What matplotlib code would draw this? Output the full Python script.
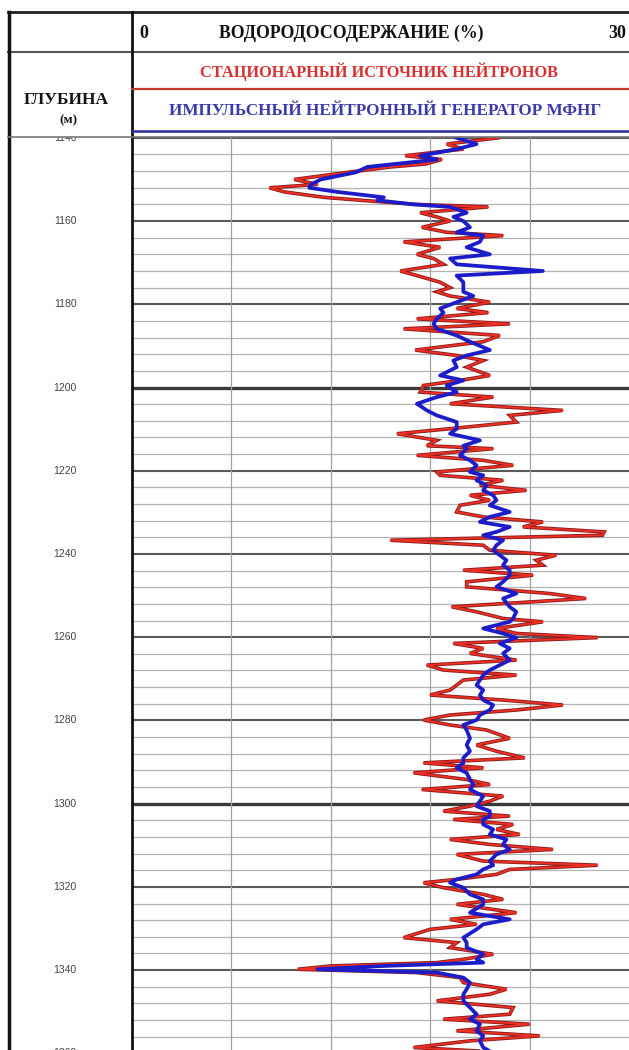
import matplotlib
matplotlib.use("Agg")
import matplotlib.pyplot as plt
import numpy as np

depth = [1140.0, 1141.5, 1142.7, 1144.3, 1145.2, 1146.3, 1147.0, 1148.3, 1150.0, 1151.2,
         1152.0, 1153.0, 1154.3, 1155.0, 1156.0, 1156.6, 1158.0, 1159.0, 1160.0, 1161.5,
         1162.7, 1163.5, 1165.0, 1166.3, 1168.0, 1169.0, 1170.4, 1172.0, 1173.1, 1174.7,
         1176.0, 1177.0, 1178.0, 1179.5, 1181.0, 1182.0, 1183.5, 1184.7, 1185.9, 1187.5,
         1189.0, 1191.0, 1192.3, 1193.5, 1195.1, 1197.1, 1198.3, 1199.5, 1201.1, 1202.3,
         1203.9, 1205.5, 1206.7, 1208.3, 1209.9, 1211.1, 1212.7, 1214.0, 1214.7, 1216.3,
         1217.5, 1218.7, 1220.3, 1221.1, 1222.3, 1223.5, 1224.7, 1225.9, 1227.1, 1228.3,
         1229.9, 1231.1, 1232.3, 1233.5, 1234.7, 1235.5, 1236.7, 1237.9, 1239.1, 1240.3,
         1241.5, 1242.7, 1243.9, 1245.1, 1246.7, 1247.9, 1249.5, 1250.7, 1252.7, 1253.9,
         1255.5, 1256.3, 1257.9, 1259.1, 1260.1, 1261.5, 1262.7, 1263.9, 1265.5, 1266.7,
         1267.9, 1269.1, 1270.3, 1271.5, 1272.7, 1273.9, 1275.1, 1276.3, 1277.5, 1278.7,
         1279.9, 1281.1, 1282.3, 1284.3, 1285.9, 1287.4, 1289.0, 1290.2, 1291.4, 1292.6,
         1294.2, 1295.4, 1296.6, 1298.2, 1299.4, 1300.6, 1301.8, 1303.0, 1303.8, 1305.0,
         1306.2, 1307.4, 1308.6, 1309.8, 1311.0, 1312.2, 1313.8, 1314.8, 1315.8, 1317.0,
         1318.2, 1319.0, 1320.2, 1321.8, 1323.0, 1324.2, 1326.2, 1327.8, 1329.0, 1330.2,
         1332.2, 1333.4, 1334.6, 1336.2, 1337.4, 1338.2, 1339.0, 1339.8, 1340.6, 1341.8,
         1343.0, 1344.6, 1345.8, 1347.4, 1349.0, 1350.6, 1351.8, 1353.0, 1354.6, 1355.8,
         1357.0, 1358.6, 1359.5]

# stationary neutron source
red = [22.1, 19.0, 20.0, 16.5, 18.7, 17.7, 15.6, 13.0, 9.8, 11.2,
       8.3, 9.2, 11.6, 13.8, 17.2, 21.5, 17.4, 18.4, 19.2, 17.5,
       19.0, 22.4, 16.4, 18.6, 17.2, 18.2, 18.8, 16.2, 17.2, 18.6,
       19.2, 18.4, 19.2, 21.6, 19.6, 21.5, 17.2, 22.8, 16.4, 22.2,
       21.2, 17.1, 19.6, 21.2, 20.2, 21.6, 19.8, 17.6, 17.4, 21.8,
       19.2, 26.0, 22.8, 23.2, 19.2, 16.0, 18.4, 17.8, 21.8, 17.2,
       21.2, 23.0, 18.4, 18.6, 22.4, 21.0, 23.8, 20.4, 21.6, 19.8,
       19.6, 21.2, 24.8, 23.6, 28.5, 28.4, 15.6, 21.2, 21.6, 25.6,
       24.4, 24.8, 20.0, 24.2, 20.2, 20.2, 25.2, 27.4, 19.3, 20.8,
       22.4, 24.8, 22.0, 23.2, 28.1, 19.4, 21.2, 20.4, 23.2, 17.8,
       18.8, 23.2, 20.0, 19.6, 19.2, 18.0, 22.4, 26.0, 23.2, 19.2,
       17.6, 19.2, 21.4, 22.8, 20.8, 22.0, 23.7, 17.6, 21.2, 17.0,
       20.2, 21.6, 17.5, 22.4, 21.6, 20.4, 18.8, 22.8, 19.4, 23.0,
       22.0, 23.4, 19.2, 21.6, 25.4, 19.6, 21.2, 28.1, 22.8, 22.0,
       19.6, 17.6, 18.8, 21.2, 22.4, 19.6, 23.2, 19.2, 20.8, 18.0,
       16.4, 19.6, 19.2, 21.8, 20.0, 18.4, 12.0, 10.0, 17.2, 19.8,
       20.0, 22.6, 21.6, 18.4, 23.0, 22.8, 18.8, 24.0, 19.6, 24.6,
       20.4, 17.0, 21.2]

# pulsed neutron generator
blue = [19.6, 20.8, 19.6, 17.4, 18.4, 15.8, 14.2, 13.5, 11.4, 10.8,
        10.7, 12.4, 15.2, 14.8, 17.0, 19.2, 20.2, 19.4, 20.0, 20.4,
        19.6, 21.2, 21.0, 20.2, 21.6, 19.2, 19.6, 24.8, 19.6, 20.0,
        20.0, 20.0, 20.6, 19.6, 18.6, 18.8, 18.4, 18.2, 18.4, 19.6,
        20.4, 21.6, 20.2, 19.4, 19.6, 18.6, 20.0, 19.0, 19.6, 18.4,
        17.2, 17.8, 18.4, 19.6, 19.6, 19.2, 21.0, 20.0, 20.2, 19.8,
        20.4, 20.8, 20.4, 21.2, 20.8, 21.4, 21.2, 21.8, 22.0, 21.6,
        22.8, 21.6, 21.0, 22.8, 22.0, 21.2, 22.4, 22.0, 21.8, 22.2,
        22.6, 22.4, 22.8, 22.8, 22.4, 22.0, 23.2, 22.4, 22.8, 23.2,
        23.0, 22.8, 21.2, 22.4, 23.2, 22.2, 22.8, 22.4, 22.8, 22.2,
        21.6, 21.2, 21.0, 20.8, 21.2, 21.0, 21.2, 21.8, 21.6, 21.0,
        20.8, 20.0, 20.2, 20.4, 20.2, 20.4, 20.0, 20.0, 19.6, 20.2,
        20.4, 20.6, 20.4, 21.2, 21.0, 20.8, 21.6, 21.6, 21.2, 21.2,
        21.8, 21.6, 22.6, 22.4, 22.8, 22.0, 21.6, 21.8, 21.2, 20.8,
        19.6, 19.2, 20.0, 20.4, 21.2, 21.2, 20.4, 22.8, 21.2, 20.8,
        20.0, 20.2, 20.2, 21.2, 20.8, 21.2, 15.2, 11.2, 18.4, 20.0,
        20.4, 20.2, 20.0, 20.0, 20.4, 20.8, 20.4, 21.0, 20.8, 21.2,
        21.0, 21.2, 21.6]

depth_labels = [1140, 1160, 1180, 1200, 1220, 1240, 1260, 1280, 1300, 1320, 1340, 1360]

W, H = 629, 1050
top_px = 137
d_top, d_bot = 1139.8, 1359.2

fig = plt.figure(figsize=(W / 100, H / 100), dpi=100)
fig.patch.set_facecolor("white")

# main log track
ax = fig.add_axes([132 / W, 0, (W - 132) / W, (H - top_px) / H])
ax.set_xlim(0, 30)
ax.set_ylim(d_bot, d_top)
for s in ax.spines.values():
    s.set_visible(False)
ax.set_xticks([])
ax.set_yticks([])

for d in np.arange(1140, 1361, 4):
    if d % 100 == 0:
        ax.axhline(d, color="#3a3a3a", lw=2.4, zorder=1)
    elif d % 20 == 0:
        ax.axhline(d, color="#5a5a5a", lw=1.5, zorder=1)
    else:
        ax.axhline(d, color="#b4b4b4", lw=0.9, zorder=1)
for v in [6, 12, 18, 24]:
    ax.axvline(v, color="#a0a0a0", lw=0.9, zorder=1)

ax.plot(red, depth, color="#8c1c1c", lw=2.6, zorder=2, solid_joinstyle="miter")
ax.plot(red, depth, color="#ee3024", lw=1.3, zorder=3)
ax.plot(blue, depth, color="#1c1cc8", lw=2.7, zorder=4)

# depth column
axl = fig.add_axes([8 / W, 0, 124 / W, (H - top_px) / H])
axl.set_xlim(0, 1)
axl.set_ylim(d_bot, d_top)
axl.axis("off")
for d in depth_labels:
    axl.text(0.46, d, str(d), ha="center", va="center", fontsize=7.5,
             family="Liberation Sans", color="#444444", clip_on=True)

# header and frame
hd = fig.add_axes([0, 0, 1, 1], facecolor="none")
hd.set_xlim(0, W)
hd.set_ylim(H, 0)
hd.axis("off")
hd.plot([8, W], [12, 12], color="#222222", lw=2)
hd.plot([8, W], [52, 52], color="#555555", lw=1.5)
hd.plot([9, 9], [12, H], color="#111111", lw=2.5)
hd.plot([132, 132], [12, H], color="#111111", lw=2)
hd.plot([132, W], [89, 89], color="#c0392b", lw=1.6)
hd.plot([132, W], [131, 131], color="#2a2a9a", lw=1.8)
hd.plot([8, W], [137, 137], color="#777777", lw=1.2)

serif = "Liberation Serif"
hd.text(139, 33, "0", ha="left", va="center", fontsize=13, family=serif,
        weight="bold", color="#111111")
hd.text(351, 33, "ВОДОРОДОСОДЕРЖАНИЕ (%)", ha="center", va="center", fontsize=12.8,
        family=serif, weight="bold", color="#111111")
hd.text(626, 33, "30", ha="right", va="center", fontsize=13, family=serif,
        weight="bold", color="#111111")
hd.text(379, 72, "СТАЦИОНАРНЫЙ ИСТОЧНИК НЕЙТРОНОВ", ha="center", va="center",
        fontsize=11.8, family=serif, weight="bold", color="#d83030")
hd.text(385, 111, "ИМПУЛЬСНЫЙ НЕЙТРОННЫЙ ГЕНЕРАТОР МФНГ", ha="center", va="center",
        fontsize=12.3, family=serif, weight="bold", color="#3a3aa8")
hd.text(66, 100, "ГЛУБИНА", ha="center", va="center", fontsize=12.5, family=serif,
        weight="bold", color="#111111")
hd.text(68, 120, "(м)", ha="center", va="center", fontsize=9.5, family=serif,
        weight="bold", color="#111111")

fig.savefig("out.png", dpi=100)
